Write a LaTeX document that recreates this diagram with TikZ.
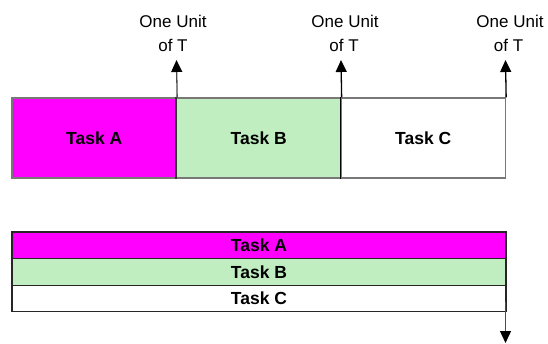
\documentclass[tikz,border=0pt]{standalone}
\usepackage{fontspec}
\setmainfont{Liberation Sans}
\usetikzlibrary{arrows.meta}
\definecolor{taskA}{RGB}{255,0,255}
\definecolor{taskB}{RGB}{192,238,192}
\definecolor{edgegray}{RGB}{120,120,120}
\tikzset{
  topbox/.style={draw=edgegray, line width=1.3pt, inner sep=0pt, minimum width=164.5pt, minimum height=80pt, font=\fontsize{17.5}{20}\selectfont\bfseries},
  rowbox/.style={draw=black!85, line width=1.2pt, inner sep=0pt, minimum width=494pt, minimum height=26.6pt, font=\fontsize{17.5}{20}\selectfont\bfseries},
  unitlab/.style={anchor=base, inner sep=0pt, font=\fontsize{17}{20}\selectfont},
  uparr/.style={line width=1.3pt, -{Triangle[length=12pt,width=11pt,color=black]}},
}
\begin{document}
\begin{tikzpicture}[x=1pt,y=-1pt]
\useasboundingbox (0,0) rectangle (548,343);
% top row of tasks
\node[topbox, fill=taskA] (ta) at (94.25,138) {Task A};
\node[topbox, fill=taskB] (tb) at (258.75,138) {Task B};
\node[topbox, fill=white] (tc) at (423.25,138) {Task C};
% arrow tips
\coordinate (u1) at (176.5,60);
\coordinate (u2) at (341,60);
\coordinate (u3) at (505.5,60);
\draw[uparr, black!70] (ta.north east) -- (u1);
\draw[uparr] (tb.north east) -- (u2);
\draw[uparr] (tc.north east) -- (u3);
\draw[line width=1.3pt, black!80] (tb.north west) -- (tb.south west);
\draw[line width=1.3pt, black] (tc.north west) -- (tc.south west);
% labels
\node[unitlab] (l1a) at (173,27) {One Unit};
\node[unitlab] (l1b) at (173,51) {of T};
\node[unitlab] (l2a) at (345,27) {One Unit};
\node[unitlab] (l2b) at (344,51) {of T};
\node[unitlab] (l3a) at (510,27) {One Unit};
\node[unitlab] (l3b) at (508.5,51) {of T};
% bottom stacked rows
\node[rowbox, fill=taskA] (ra) at (259,245.2) {Task A};
\node[rowbox, fill=taskB] (rb) at (259,271.8) {Task B};
\node[rowbox, fill=white] (rc) at (259,298.4) {Task C};
\coordinate (d1) at (505.5,302);
\coordinate (d2) at (505.5,343);
\draw[uparr, black!70] (d1) -- (d2);
\end{tikzpicture}
\end{document}
